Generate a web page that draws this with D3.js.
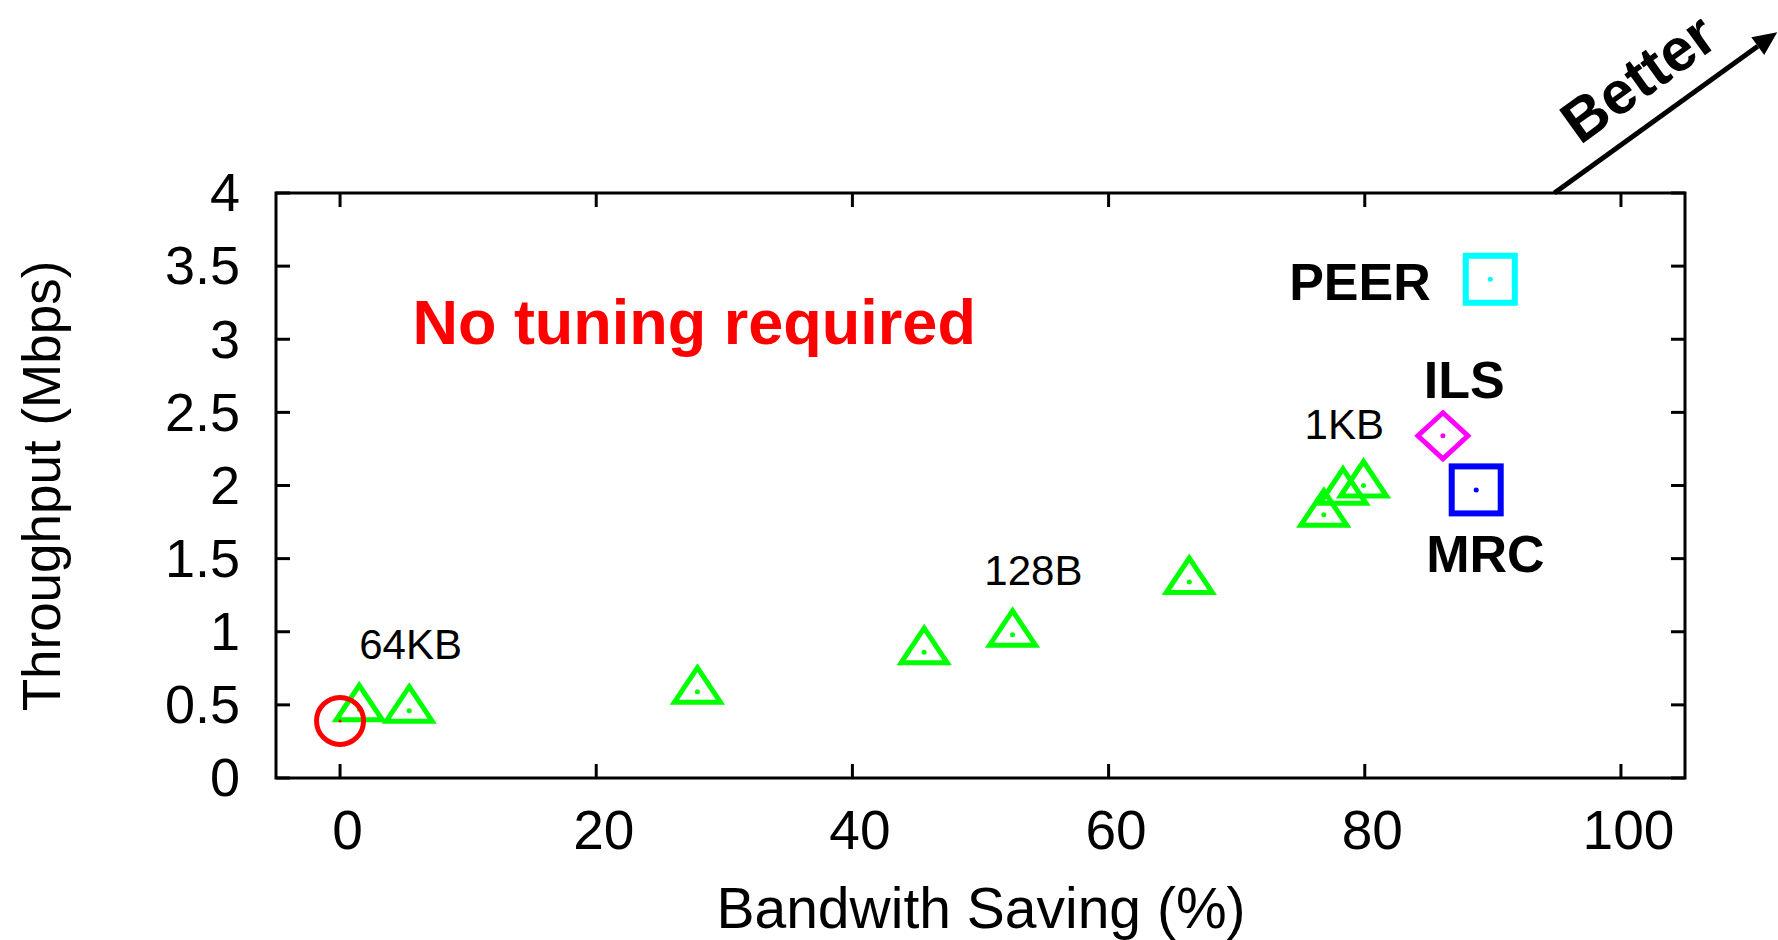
<!DOCTYPE html>
<html>
<head>
<meta charset="utf-8">
<script src="https://cdn.jsdelivr.net/npm/d3@7/dist/d3.min.js"></script>
<style>
  html, body { margin: 0; padding: 0; background: #fff; }
  text { font-family: "Liberation Sans", Arial, Helvetica, sans-serif; }
</style>
</head>
<body>
<svg id="chart" width="1778" height="940"></svg>
<script>
// ---- data ----
const xTicks = [0, 20, 40, 60, 80, 100];
const yTicks = [0, 0.5, 1, 1.5, 2, 2.5, 3, 3.5, 4];
const yTickLabels = ["0", "0.5", "1", "1.5", "2", "2.5", "3", "3.5", "4"];

// green triangles (chunk-size sweep)
const chunkX = [1.5, 5.4, 27.9, 45.6, 52.5, 66.3, 76.8, 78.3, 79.9];
const chunkY = [0.47, 0.46, 0.59, 0.86, 0.98, 1.34, 1.80, 1.95, 2.00];

// red circle (baseline)
const baseX = [0];
const baseY = [0.39];

// named systems
const sysNames = ["PEER", "ILS", "MRC"];
const sysX = [89.8, 86.1, 88.7];
const sysY = [3.41, 2.34, 1.97];

// annotation labels (data coordinates)
const chunkLabels = ["64KB", "128B", "1KB"];
const chunkLabelX = [1.5, 50.3, 75.3];
const chunkLabelY = [0.815, 1.32, 2.315];
const sysLabelX = [74.1, 84.6, 84.8];
const sysLabelY = [3.27, 2.60, 1.41];

// ---- layout ----
const svg = d3.select("#chart");
const margin = { left: 276, right: 1778 - 1685, top: 193, bottom: 940 - 778 };
const W = 1778, H = 940;
const x = d3.scaleLinear().domain([-5, 105]).range([margin.left, W - margin.right]);
const y = d3.scaleLinear().domain([0, 4]).range([H - margin.bottom, margin.top]);

svg.append("rect").attr("width", W).attr("height", H).attr("fill", "#fff");

const x0 = x.range()[0], x1 = x.range()[1], y0 = y.range()[0], y1 = y.range()[1];
const tickLen = 14;

// ticks (mirrored, inward)
const gTicks = svg.append("g").attr("stroke", "#000").attr("stroke-width", 3);
xTicks.forEach(t => {
  gTicks.append("line").attr("x1", x(t)).attr("x2", x(t)).attr("y1", y0).attr("y2", y0 - tickLen);
  gTicks.append("line").attr("x1", x(t)).attr("x2", x(t)).attr("y1", y1).attr("y2", y1 + tickLen);
});
yTicks.forEach(t => {
  gTicks.append("line").attr("x1", x0).attr("x2", x0 + tickLen).attr("y1", y(t)).attr("y2", y(t));
  gTicks.append("line").attr("x1", x1).attr("x2", x1 - tickLen).attr("y1", y(t)).attr("y2", y(t));
});

// frame
svg.append("rect")
  .attr("x", x0).attr("y", y1).attr("width", x1 - x0).attr("height", y0 - y1)
  .attr("fill", "none").attr("stroke", "#000").attr("stroke-width", 3);

// tick labels via axis generators (domain/tick lines hidden)
const xAxis = d3.axisBottom(x).tickValues(xTicks).tickSize(0).tickPadding(0).tickFormat(d3.format("d"));
const gx = svg.append("g").attr("transform", `translate(7,${y0})`).call(xAxis);
gx.select(".domain").remove();
gx.selectAll("text").attr("font-size", 55).attr("fill", "#000")
  .attr("dy", null).attr("y", 71).style("font-family", '"Liberation Sans", Arial, sans-serif');

const yAxis = d3.axisLeft(y).tickValues(yTicks).tickSize(0).tickPadding(0)
  .tickFormat((d, i) => yTickLabels[i]);
const gy = svg.append("g").attr("transform", `translate(${x0 - 36},0)`).call(yAxis);
gy.select(".domain").remove();
gy.selectAll("text").attr("font-size", 54).attr("fill", "#000")
  .attr("dy", "0.33em").attr("x", 0).style("font-family", '"Liberation Sans", Arial, sans-serif');

// axis titles
svg.append("text").attr("x", 981).attr("y", 928).attr("text-anchor", "middle")
  .attr("font-size", 57).attr("fill", "#000").text("Bandwith Saving (%)");
svg.append("text").attr("transform", "translate(60,486) rotate(-90)").attr("text-anchor", "middle")
  .attr("font-size", 53).attr("fill", "#000").text("Throughput (Mbps)");

// ---- marks ----
const green = "#00ff00";
const triPath = "M0,-24L23,10.5L-23,10.5Z";
const gTri = svg.append("g");
chunkX.forEach((v, i) => {
  const g = gTri.append("g").attr("transform", `translate(${x(v)},${y(chunkY[i])})`);
  g.append("path").attr("d", triPath).attr("fill", "none").attr("stroke", green)
    .attr("stroke-width", 5).attr("stroke-linejoin", "miter");
  g.append("circle").attr("r", 2.5).attr("fill", green);
});

baseX.forEach((v, i) => {
  const g = svg.append("g").attr("transform", `translate(${x(v)},${y(baseY[i])})`);
  g.append("circle").attr("r", 23.5).attr("fill", "none").attr("stroke", "#ff0000").attr("stroke-width", 5);
  g.append("circle").attr("r", 1.5).attr("fill", "#ff0000");
});

const sysColor = ["#00ffff", "#ff00ff", "#0000ff"];
const sysShape = ["square", "diamond", "square"];
sysX.forEach((v, i) => {
  const g = svg.append("g").attr("transform", `translate(${x(v)},${y(sysY[i])})`);
  if (sysShape[i] === "square") {
    g.append("rect").attr("x", -24.5).attr("y", -23.5).attr("width", 49).attr("height", 47)
      .attr("fill", "none").attr("stroke", sysColor[i]).attr("stroke-width", 6);
  } else {
    g.append("path").attr("d", "M0,-23L25,0L0,23L-25,0Z")
      .attr("fill", "none").attr("stroke", sysColor[i]).attr("stroke-width", 5);
  }
  g.append("circle").attr("r", 2.5).attr("fill", sysColor[i]);
});

// ---- annotations ----
chunkLabels.forEach((t, i) => {
  svg.append("text").attr("x", x(chunkLabelX[i])).attr("y", y(chunkLabelY[i]))
    .attr("font-size", 42).attr("fill", "#000").text(t);
});
sysNames.forEach((t, i) => {
  svg.append("text").attr("x", x(sysLabelX[i])).attr("y", y(sysLabelY[i]))
    .attr("font-size", 52).attr("font-weight", "bold").attr("fill", "#000").text(t);
});
svg.append("text").attr("x", x(5.65)).attr("y", y(2.97))
  .attr("font-size", 63).attr("font-weight", "bold").attr("fill", "#ff0000").text("No tuning required");

// "Better" arrow
const arrowFrom = [94.8, 4.0], arrowTo = [112.2, 5.1];
const ax0 = x(arrowFrom[0]), ay0 = y(arrowFrom[1]), ax1 = x(arrowTo[0]), ay1 = y(arrowTo[1]);
const ang = Math.atan2(ay1 - ay0, ax1 - ax0);
const headLen = 24, headHalf = 11;
const bx = ax1 - headLen * Math.cos(ang), by = ay1 - headLen * Math.sin(ang);
svg.append("line").attr("x1", ax0).attr("y1", ay0).attr("x2", bx).attr("y2", by)
  .attr("stroke", "#000").attr("stroke-width", 5);
svg.append("path")
  .attr("d", `M${ax1},${ay1}L${bx - headHalf * Math.sin(ang)},${by + headHalf * Math.cos(ang)}L${bx + headHalf * Math.sin(ang)},${by - headHalf * Math.cos(ang)}Z`)
  .attr("fill", "#000");
const angDeg = ang * 180 / Math.PI;
svg.append("text")
  .attr("transform", `translate(${x(96.8)},${y(4.325)}) rotate(${angDeg})`)
  .attr("font-size", 60).attr("font-weight", "bold").attr("fill", "#000").text("Better");
</script>
</body>
</html>
